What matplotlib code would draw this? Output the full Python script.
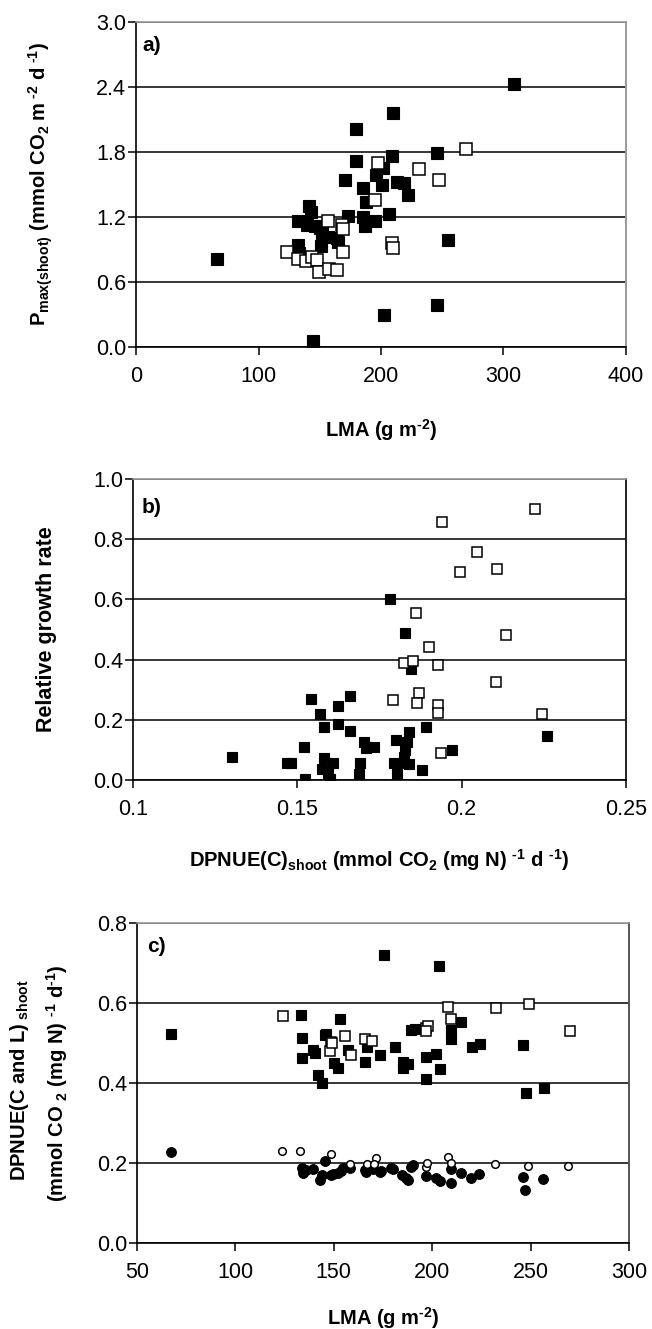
import matplotlib
matplotlib.use("Agg")
import matplotlib.pyplot as plt

plt.rcParams['font.family'] = ['Liberation Sans', 'DejaVu Sans']
plt.rcParams['mathtext.fontset'] = 'custom'
plt.rcParams['mathtext.rm'] = 'Liberation Sans:bold'
plt.rcParams['mathtext.it'] = 'Liberation Sans:italic'
plt.rcParams['mathtext.bf'] = 'Liberation Sans:bold'

# --------------------------------------------------------
# Panel a: Pmax(shoot) vs LMA
# --------------------------------------------------------
a_lma_fill = [66, 144.5, 202.5, 245.5, 255, 308.6, 210, 180, 180, 209, 245.7, 202,
              170.6, 195.7, 185, 200.5, 213, 219, 222, 188, 206.7, 173, 141, 142.6,
              132, 139.4, 146, 150, 151.6, 157, 164, 185.6, 187, 195, 165, 151, 132, 133]
a_pmax_fill = [0.81, 0.06, 0.30, 0.39, 0.99, 2.43, 2.16, 2.01, 1.72, 1.76, 1.79, 1.65,
               1.54, 1.59, 1.47, 1.50, 1.52, 1.51, 1.40, 1.34, 1.23, 1.21, 1.30, 1.25,
               1.16, 1.13, 1.12, 1.10, 1.05, 1.02, 1.01, 1.20, 1.12, 1.16, 0.97, 0.93, 0.94, 0.87]
a_lma_open = [197.5, 195, 269, 231, 247.5, 209, 210, 157, 168, 169, 123.5, 132, 139,
              144, 148, 149, 157.7, 164, 169]
a_pmax_open = [1.70, 1.36, 1.83, 1.64, 1.54, 0.96, 0.91, 1.16, 1.13, 1.09, 0.88, 0.81, 0.79,
               0.83, 0.80, 0.69, 0.72, 0.71, 0.88]

# --------------------------------------------------------
# Panel b: relative growth rate vs DPNUE(C)
# --------------------------------------------------------
b_dp_fill = [0.1781, 0.1827, 0.1847, 0.1543, 0.166, 0.1624, 0.157, 0.158, 0.1624, 0.166,
             0.189, 0.1704, 0.1733, 0.171, 0.1799, 0.1839, 0.1834, 0.1829, 0.1824, 0.1819,
             0.1793, 0.1804, 0.1839, 0.188, 0.1692, 0.1687, 0.1519, 0.1468, 0.148, 0.130,
             0.1524, 0.1582, 0.1609, 0.1575, 0.1593, 0.1598, 0.2259, 0.1971]
b_rgr_fill = [0.600, 0.487, 0.369, 0.268, 0.279, 0.246, 0.219, 0.175, 0.186, 0.164,
              0.175, 0.127, 0.108, 0.105, 0.133, 0.160, 0.127, 0.100, 0.077, 0.055,
              0.055, 0.019, 0.053, 0.033, 0.055, 0.019, 0.108, 0.058, 0.058, 0.075,
              0.002, 0.072, 0.058, 0.035, 0.022, 0.002, 0.146, 0.100]
b_dp_open = [0.1939, 0.2223, 0.2046, 0.1995, 0.2107, 0.186, 0.1901, 0.2134, 0.1824, 0.1852,
             0.1928, 0.179, 0.187, 0.1865, 0.1928, 0.1928, 0.2104, 0.2243, 0.1938]
b_rgr_open = [0.858, 0.899, 0.758, 0.692, 0.700, 0.554, 0.443, 0.482, 0.388, 0.396,
              0.382, 0.266, 0.290, 0.255, 0.249, 0.224, 0.327, 0.219, 0.091]

# --------------------------------------------------------
# Panel c: DPNUE(C and L) vs LMA (squares = C+L, circles = C)
# --------------------------------------------------------
c_lma_sq_fill = [67.1, 133.2, 153, 134.1, 146, 189.4, 139.2, 133.6, 140.4, 157.3, 167, 173.4,
                 181, 165.7, 150, 152, 142, 143.8, 185, 185, 187.7, 196.7, 197, 175.4,
                 203.4, 214.8, 191.1, 209.7, 209.7, 202, 204.1, 220.3, 224.4, 246.4, 247.8,
                 256.6, 145.4]
c_val_sq_fill = [0.522, 0.570, 0.559, 0.513, 0.5225, 0.5325, 0.4825, 0.462, 0.474, 0.4825,
                 0.489, 0.470, 0.489, 0.453, 0.449, 0.437, 0.420, 0.399, 0.453, 0.437,
                 0.4475, 0.410, 0.466, 0.720, 0.6925, 0.553, 0.534, 0.5325, 0.509, 0.4725,
                 0.435, 0.491, 0.4975, 0.495, 0.376, 0.387, 0.520]
c_lma_sq_open = [124, 148.8, 155.6, 165.7, 169.6, 197, 148, 159, 208, 232.2, 249.1, 270.1,
                 209.7, 197.9, 196.7, 149]
c_val_sq_open = [0.5675, 0.503, 0.5175, 0.510, 0.505, 0.537, 0.481, 0.470, 0.591, 0.587,
                 0.597, 0.531, 0.559, 0.5425, 0.531, 0.499]
c_lma_ci_fill = [67.1, 145.4, 134.1, 134.4, 139.2, 143.2, 143.8, 148.8, 152.2, 154.8, 158,
                 165.7, 170, 174.2, 180.1, 184.8, 186.9, 189.4, 197, 136, 149.6, 153.9,
                 166.5, 173.4, 179.3, 187.7, 190.2, 202, 203.8, 209.7, 209.7, 214.8, 219.9,
                 223.8, 246.1, 247, 256.3]
c_val_ci_fill = [0.228, 0.206, 0.187, 0.174, 0.184, 0.1575, 0.170, 0.170, 0.174, 0.187, 0.187,
                 0.1825, 0.184, 0.181, 0.184, 0.170, 0.162, 0.191, 0.1675, 0.1825, 0.1725, 0.181,
                 0.178, 0.178, 0.187, 0.1575, 0.195, 0.162, 0.156, 0.184, 0.151, 0.174, 0.162,
                 0.1725, 0.164, 0.1325, 0.159]
c_lma_ci_open = [123.8, 132.8, 148.8, 158, 166.9, 171.3, 170.3, 196.7, 197.5, 208.2, 209.4,
                 232.1, 248.7, 269]
c_val_ci_open = [0.23, 0.23, 0.2225, 0.1975, 0.1975, 0.212, 0.1975, 0.191, 0.201, 0.216,
                 0.201, 0.1975, 0.1925, 0.1925]

TICK_FS = 15.5
LABEL_FS = 14.5


def style_axes(ax, right_col):
    ax.set_axisbelow(True)
    ax.grid(axis='y', color='black', lw=1.1)
    ax.grid(axis='x', visible=False)
    for s in ('left', 'bottom'):
        ax.spines[s].set_color('black')
        ax.spines[s].set_linewidth(1.2)
    ax.spines['top'].set_color('#999999')
    ax.spines['top'].set_linewidth(1.2)
    ax.spines['right'].set_color(right_col)
    ax.spines['right'].set_linewidth(1.4)
    ax.tick_params(axis='both', direction='out', length=6, width=1.1,
                   labelsize=TICK_FS, color='black')
    ax.tick_params(axis='y', pad=1)
    ax.tick_params(axis='x', pad=8)
    ax.tick_params(top=False, right=False)


def filled(ax, x, y, marker='s', ms=8):
    ax.plot(x, y, marker, ls='none', ms=ms, mfc='black', mec='black', mew=0.8, zorder=3)


def hollow(ax, x, y, marker='s', ms=7.5):
    ax.plot(x, y, marker, ls='none', ms=ms, mfc='white', mec='black', mew=1.1, zorder=3)


fig = plt.figure(figsize=(6.52, 13.29), dpi=100)

# ---- a)
ax1 = fig.add_axes([0.2086, 0.7389, 0.7515, 0.2445])
filled(ax1, a_lma_fill, a_pmax_fill, ms=8.5)
hollow(ax1, a_lma_open, a_pmax_open, ms=8)
ax1.set_xlim(0, 400)
ax1.set_ylim(0, 3.0)
ax1.set_xticks([0, 100, 200, 300, 400])
ax1.set_yticks([0, 0.6, 1.2, 1.8, 2.4, 3.0])
ax1.set_yticklabels(['0.0', '0.6', '1.2', '1.8', '2.4', '3.0'])
style_axes(ax1, '#999999')
ax1.set_ylabel(r'$\mathbf{P_{max(shoot)}\ (mmol\ CO_2\ m^{\ \text{-2}}\ d^{\ \text{-1}})}$',
               fontsize=LABEL_FS)
ax1.yaxis.set_label_coords(-0.165, 0.5)
ax1.set_xlabel(r'$\mathbf{LMA\ (g\ m^{\text{-2}})}$', fontsize=LABEL_FS, va='center')
ax1.xaxis.set_label_coords(0.5, -0.255)
ax1.text(0.014, 0.929, 'a)', transform=ax1.transAxes, fontsize=15, fontweight='bold',
         va='center', ha='left')

# ---- b)
ax2 = fig.add_axes([0.2040, 0.4131, 0.7561, 0.2265])
filled(ax2, b_dp_fill, b_rgr_fill, ms=7.5)
hollow(ax2, b_dp_open, b_rgr_open, ms=7)
ax2.set_xlim(0.1, 0.25)
ax2.set_ylim(0, 1.0)
ax2.set_xticks([0.1, 0.15, 0.2, 0.25])
ax2.set_xticklabels(['0.1', '0.15', '0.2', '0.25'])
ax2.set_yticks([0, 0.2, 0.4, 0.6, 0.8, 1.0])
ax2.set_yticklabels(['0.0', '0.2', '0.4', '0.6', '0.8', '1.0'])
style_axes(ax2, '#222222')
ax2.set_ylabel('Relative growth rate', fontsize=LABEL_FS + 1, fontweight='bold')
ax2.yaxis.set_label_coords(-0.154, 0.5)
ax2.set_xlabel(r'$\mathbf{DPNUE(C)_{shoot}\ (mmol\ CO_2\ (mg\ N)\ ^{\text{-1}}\ d\ ^{\text{-1}})}$',
               fontsize=LABEL_FS, va='center')
ax2.xaxis.set_label_coords(0.5, -0.266)
ax2.text(0.018, 0.904, 'b)', transform=ax2.transAxes, fontsize=15, fontweight='bold',
         va='center', ha='left')

# ---- c)
ax3 = fig.add_axes([0.2101, 0.0647, 0.7546, 0.2408])
filled(ax3, c_lma_sq_fill, c_val_sq_fill, ms=7.5)
hollow(ax3, c_lma_sq_open, c_val_sq_open, ms=7)
filled(ax3, c_lma_ci_fill, c_val_ci_fill, marker='o', ms=7)
hollow(ax3, c_lma_ci_open, c_val_ci_open, marker='o', ms=5.5)
ax3.set_xlim(50, 300)
ax3.set_ylim(0, 0.8)
ax3.set_xticks([50, 100, 150, 200, 250, 300])
ax3.set_yticks([0, 0.2, 0.4, 0.6, 0.8])
ax3.set_yticklabels(['0.0', '0.2', '0.4', '0.6', '0.8'])
style_axes(ax3, '#555555')
ax3.set_xlabel(r'$\mathbf{LMA\ (g\ m^{\text{-2}})}$', fontsize=LABEL_FS, va='center')
ax3.xaxis.set_label_coords(0.5, -0.234)
ax3.text(0.02, 0.925, 'c)', transform=ax3.transAxes, fontsize=15, fontweight='bold',
         va='center', ha='left')
fig.text(20 / 652, 1 - 1080 / 1329, r'$\mathbf{DPNUE(C\ and\ L)_{\ shoot}}$',
         rotation=90, fontsize=LABEL_FS, ha='center', va='center')
fig.text(57 / 652, 1 - 1083 / 1329,
         r'$\mathbf{(mmol\ CO\ _2\ (mg\ N)\ ^{\text{-1}}\ d^{\text{-1}})}$',
         rotation=90, fontsize=LABEL_FS, ha='center', va='center')

fig.savefig('out.png', dpi=100)
